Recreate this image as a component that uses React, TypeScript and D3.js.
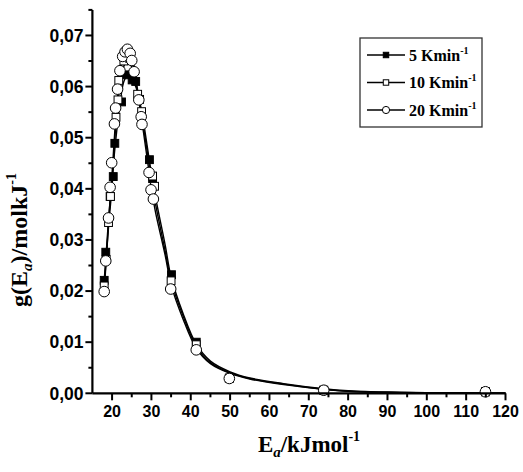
import React from 'react';
import * as d3 from 'd3';

const width = 523;
const height = 472;

// markers
const e5 = [18.0, 18.4, 19.5, 20.3, 20.7, 22.4, 23.7, 25.1, 26.0, 27.0, 29.5, 30.3, 35.1, 41.4, 49.8, 73.8, 114.9];
const g5 = [0.0221, 0.0276, 0.0385, 0.0424, 0.0489, 0.0570, 0.0623, 0.0613, 0.0610, 0.0575, 0.0457, 0.0420, 0.0232, 0.0100, 0.0030, 0.0006, 0.0003];

const e10 = [18.0, 18.5, 19.1, 19.6, 21.0, 21.5, 21.7, 23.0, 24.5, 26.5, 27.5, 30.3, 30.8, 35.0, 41.4, 49.8, 73.8, 114.9];
const g10 = [0.0210, 0.0262, 0.0334, 0.0385, 0.0540, 0.0574, 0.0612, 0.0650, 0.0655, 0.0585, 0.0551, 0.0425, 0.0405, 0.0220, 0.0095, 0.0029, 0.0006, 0.0003];

const e20 = [18.0, 18.4, 19.1, 19.5, 19.9, 20.6, 20.9, 21.4, 22.0, 22.7, 23.3, 23.9, 24.6, 25.0, 25.6, 26.8, 27.4, 27.6, 29.4, 29.9, 30.5, 34.9, 41.4, 49.8, 73.8, 114.9];
const g20 = [0.0199, 0.0259, 0.0343, 0.0403, 0.0451, 0.0527, 0.0558, 0.0595, 0.0631, 0.0659, 0.0668, 0.0673, 0.0665, 0.0651, 0.0629, 0.0574, 0.0541, 0.0526, 0.0432, 0.0398, 0.0380, 0.0204, 0.0085, 0.0029, 0.0006, 0.0003];

// fitted curves
const curveE = [18, 18.5, 19.2, 20, 21, 22, 23, 24, 25, 26, 27, 28, 29, 30, 31, 33.5, 35, 38, 41.4, 45, 50, 55, 63.6, 73.8, 80, 90, 100, 120];
const curve5 = [0.0221, 0.0274, 0.0350, 0.0420, 0.0500, 0.0565, 0.0610, 0.0622, 0.0614, 0.0600, 0.0572, 0.0530, 0.0480, 0.0430, 0.0385, 0.0290, 0.0228, 0.0157, 0.0096, 0.0063, 0.0042, 0.0030, 0.0019, 0.0009, 0.0005, 0.0002, 0.0001, 0];
const curve10 = [0.0210, 0.0262, 0.0335, 0.0405, 0.0530, 0.0600, 0.0640, 0.0652, 0.0638, 0.0608, 0.0568, 0.0520, 0.0470, 0.0418, 0.0372, 0.0278, 0.0220, 0.0152, 0.0092, 0.0060, 0.0040, 0.0029, 0.0018, 0.0008, 0.0004, 0.0002, 0.0001, 0];
const curve20 = [0.0199, 0.0259, 0.0345, 0.0430, 0.0545, 0.0625, 0.0662, 0.0672, 0.0660, 0.0620, 0.0562, 0.0510, 0.0455, 0.0400, 0.0356, 0.0270, 0.0212, 0.0146, 0.0088, 0.0058, 0.0039, 0.0028, 0.0017, 0.0008, 0.0004, 0.0002, 0.0001, 0];

const xTicks = [20, 30, 40, 50, 60, 70, 80, 90, 100, 110, 120];
const xMinor = [25, 35, 45, 55, 65, 75, 85, 95, 105, 115];
const yTicks = [0, 0.01, 0.02, 0.03, 0.04, 0.05, 0.06, 0.07];
const yMinor = [0.005, 0.015, 0.025, 0.035, 0.045, 0.055, 0.065, 0.075];
const legendRates = ['5', '10', '20'];

const x = d3.scaleLinear().domain([15, 120]).range([92.4, 505.5]);
const y = d3.scaleLinear().domain([0, 0.075]).range([393.3, 9.9]);

const serif = "'Liberation Serif', 'Times New Roman', serif";
const sans = "'Liberation Sans', Arial, sans-serif";

const line = d3.line<[number, number]>()
    .x(d => x(d[0]))
    .y(d => y(d[1]))
    .curve(d3.curveCatmullRom);

const zip = (a: number[], b: number[]) => a.map((v, i) => [v, b[i]] as [number, number]);

const fmt = (v: number) => d3.format('.2f')(v).replace('.', ',');

function Marker({ kind, cx, cy, s }: { kind: number; cx: number; cy: number; s: number }) {
    if (kind === 2) {
        return <circle cx={cx} cy={cy} r={s} fill="white" stroke="black" strokeWidth={1} />;
    }
    return <rect x={cx - s * 0.85} y={cy - s * 0.85} width={s * 1.7} height={s * 1.7}
        fill={kind === 0 ? 'black' : 'white'} stroke="black" strokeWidth={1} />;
}

export default function App() {
    const series = [zip(e5, g5), zip(e10, g10), zip(e20, g20)];
    const curves = [zip(curveE, curve5), zip(curveE, curve10), zip(curveE, curve20)];
    const axisY = y(0);
    const axisX = x(15);

    return (
        <svg width={width} height={height} style={{ position: 'absolute', left: 0, top: 0, background: 'white' }}>
            {/* curves */}
            {curves.map((c, i) => (
                <path key={'c' + i} d={line(c) || ''} fill="none" stroke="black" strokeWidth={1.4} />
            ))}
            {/* markers */}
            {series.map((s, i) => (
                <g key={'s' + i}>
                    {s.map((d, j) => (
                        <Marker key={j} kind={i} cx={x(d[0])} cy={y(d[1])} s={i === 2 ? 5.3 : 4.6} />
                    ))}
                </g>
            ))}

            {/* axes */}
            <line x1={axisX} x2={axisX} y1={y(0.075)} y2={axisY} stroke="black" strokeWidth={2.2} />
            <line x1={axisX} x2={x(120)} y1={axisY} y2={axisY} stroke="black" strokeWidth={2.2} />
            {yTicks.map(t => (
                <g key={'yt' + t}>
                    <line x1={axisX - 7} x2={axisX} y1={y(t)} y2={y(t)} stroke="black" strokeWidth={2} />
                    <text x={83.5} y={y(t)} dy="0.36em" textAnchor="end"
                        fontFamily={sans} fontWeight="bold" fontSize={17.5}>{fmt(t)}</text>
                </g>
            ))}
            {yMinor.map(t => (
                <line key={'ym' + t} x1={axisX - 4} x2={axisX} y1={y(t)} y2={y(t)} stroke="black" strokeWidth={2} />
            ))}
            {xTicks.map(t => (
                <g key={'xt' + t}>
                    <line x1={x(t)} x2={x(t)} y1={axisY} y2={axisY + 7} stroke="black" strokeWidth={2} />
                    <text x={x(t)} y={416.5} textAnchor="middle"
                        fontFamily={sans} fontWeight="bold" fontSize={16}>{t}</text>
                </g>
            ))}
            {xMinor.map(t => (
                <line key={'xm' + t} x1={x(t)} x2={x(t)} y1={axisY} y2={axisY + 4} stroke="black" strokeWidth={2} />
            ))}

            {/* axis titles */}
            <text transform="translate(27,240) rotate(-90)" textAnchor="middle"
                fontFamily={serif} fontWeight="bold" fontSize={24}>
                g(E<tspan fontSize={15} fontStyle="italic" dy={5}>a</tspan>
                <tspan dy={-5}>)/molkJ</tspan>
                <tspan fontSize={14} dy={-11}>-1</tspan>
            </text>
            <text x={309} y={452} textAnchor="middle"
                fontFamily={serif} fontWeight="bold" fontSize={23}>
                E<tspan fontSize={15} fontStyle="italic" dy={5}>a</tspan>
                <tspan dy={-5}>/kJmol</tspan>
                <tspan fontSize={14} dy={-11}>-1</tspan>
            </text>

            {/* legend */}
            <rect x={360} y={38} width={122} height={89} fill="white" stroke="#333" strokeWidth={1.3} />
            {legendRates.map((r, i) => {
                const ly = 55 + i * 27.5;
                return (
                    <g key={'lg' + r}>
                        <line x1={367} x2={405} y1={ly} y2={ly} stroke="black" strokeWidth={1.4} />
                        <Marker kind={i} cx={386} cy={ly} s={i === 2 ? 3.6 : 3.2} />
                        <text x={409} y={ly} dy="0.35em"
                            fontFamily={serif} fontWeight="bold" fontSize={16}>
                            {r} Kmin<tspan fontSize={10} dy={-7}>-1</tspan>
                        </text>
                    </g>
                );
            })}
        </svg>
    );
}
